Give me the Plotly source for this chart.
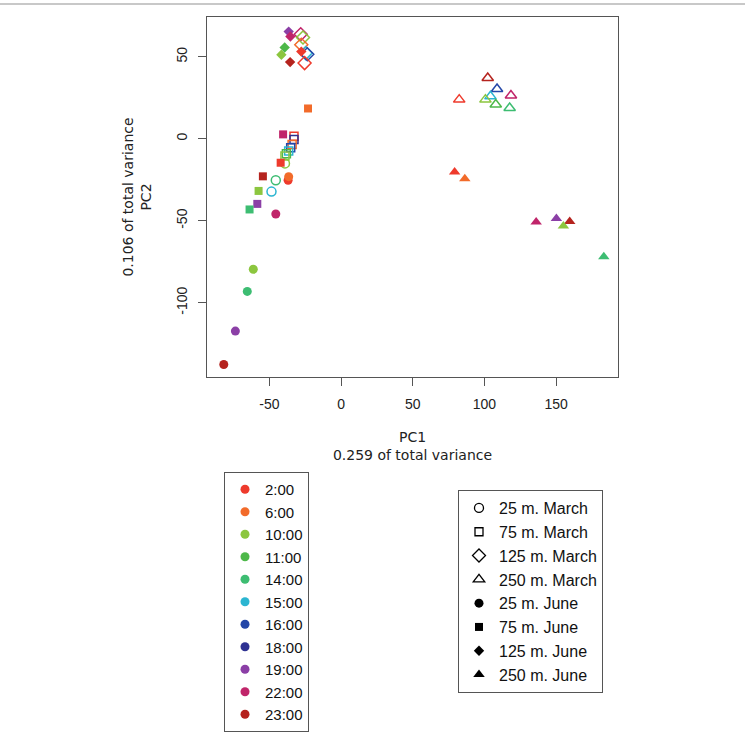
import plotly.graph_objects as go

# ---- data ----
hours = ["2:00", "6:00", "10:00", "11:00", "14:00", "15:00", "16:00", "18:00", "19:00", "22:00", "23:00"]
hour_colors = ["#EE3A2C", "#F26B2A", "#8CC63F", "#4DB849", "#3DBD72", "#2BB5D1",
               "#2447A8", "#2E3192", "#8B3FA6", "#C0256A", "#B5231E"]

groups = ["25 m. March", "75 m. March", "125 m. March", "250 m. March",
          "25 m. June", "75 m. June", "125 m. June", "250 m. June"]
group_symbols = ["circle-open", "square-open", "diamond-open", "triangle-up-open",
                 "circle", "square", "diamond", "triangle-up"]
group_sizes = [9, 8, 10, 10, 9, 8, 8, 10]

pc1 = [
    # 25 m. March
    -39.2, -45.6, -48.6,
    # 75 m. March
    -32.9, -32.9, -34.2, -35.2, -36.6, -38.2, -39.2,
    # 125 m. March
    -28.2, -26.6, -27.8, -24.7, -23.6, -25.5,
    # 250 m. March
    82.4, 102.3, 108.8, 104.2, 100.7, 118.5, 107.9, 117.6,
    # 25 m. June
    -37.0, -36.6, -45.6, -61.3, -65.5, -73.8, -81.9,
    # 75 m. June
    -40.5, -42.2, -54.6, -57.6, -58.5, -63.9, -23.1,
    # 125 m. June
    -36.6, -35.4, -39.4, -41.7, -35.6, -27.8,
    # 250 m. June
    79.2, 86.3, 136.1, 150.2, 159.5, 155.1, 183.3,
]
pc2 = [
    -15.0, -25.3, -32.2,
    1.6, -0.4, -3.4, -5.5, -7.5, -9.1, -10.5,
    63.8, 61.8, 57.4, 52.3, 51.6, 46.2,
    23.9, 37.1, 30.4, 25.9, 23.9, 26.4, 20.9, 18.8,
    -25.3, -23.1, -45.9, -79.6, -93.1, -117.3, -137.7,
    2.7, -14.6, -22.9, -31.8, -39.7, -43.1, 18.5,
    65.4, 62.4, 55.7, 51.3, 46.8, 53.2,
    -20.2, -24.3, -50.8, -48.6, -50.4, -53.2, -71.9,
]
hour = [
    "10:00", "14:00", "15:00",
    "2:00", "18:00", "6:00", "16:00", "15:00", "11:00", "10:00",
    "22:00", "10:00", "6:00", "15:00", "16:00", "2:00",
    "2:00", "23:00", "16:00", "15:00", "10:00", "22:00", "11:00", "14:00",
    "2:00", "6:00", "22:00", "10:00", "14:00", "19:00", "23:00",
    "22:00", "2:00", "23:00", "10:00", "19:00", "14:00", "6:00",
    "19:00", "22:00", "11:00", "10:00", "23:00", "2:00",
    "2:00", "6:00", "22:00", "19:00", "23:00", "10:00", "14:00",
]
group = (["25 m. March"] * 3 + ["75 m. March"] * 7 + ["125 m. March"] * 6 +
         ["250 m. March"] * 8 + ["25 m. June"] * 7 + ["75 m. June"] * 7 +
         ["125 m. June"] * 6 + ["250 m. June"] * 7)

x_tickvals = [-50, 0, 50, 100, 150]
x_ticktext = ["-50", "0", "50", "100", "150"]
y_tickvals = [-100, -50, 0, 50]
y_ticktext = ["-100", "-50", "0", "50"]

color_of = dict(zip(hours, hour_colors))

fig = go.Figure()

# data points, one trace per depth/month group
for g, sym, sz in zip(groups, group_symbols, group_sizes):
    idx = [i for i, gg in enumerate(group) if gg == g]
    cols = [color_of[hour[i]] for i in idx]
    fig.add_trace(go.Scatter(
        x=[pc1[i] for i in idx], y=[pc2[i] for i in idx],
        mode="markers", showlegend=False, hoverinfo="x+y+text",
        text=[hour[i] + " " + g for i in idx],
        marker=dict(symbol=sym, size=sz, color=cols,
                    line=dict(width=1.5, color=cols) if "open" in sym else dict(width=0)),
    ))

# legend 1: hours
for h, c in zip(hours, hour_colors):
    fig.add_trace(go.Scatter(
        x=[None], y=[None], mode="markers", name=h, legend="legend",
        marker=dict(symbol="circle", size=9, color=c),
    ))

# legend 2: depth / month
for g, sym, sz in zip(groups, group_symbols, group_sizes):
    fig.add_trace(go.Scatter(
        x=[None], y=[None], mode="markers", name=g, legend="legend2",
        marker=dict(symbol=sym, size=sz, color="black",
                    line=dict(width=1.3, color="black") if "open" in sym else dict(width=0)),
    ))

axis_common = dict(
    showline=True, mirror=True, linecolor="#555555", linewidth=1.2,
    ticks="outside", ticklen=8, tickcolor="#555555", tickwidth=1.2,
    showgrid=False, zeroline=False,
    tickfont=dict(family="Liberation Sans, Arial", size=14, color="#222222"),
)

fig.update_xaxes(
    range=[-93.6, 193.2], tickvals=x_tickvals, ticktext=x_ticktext,
    ticklabelstandoff=6,
    title=dict(text="PC1<br>0.259 of total variance", standoff=21,
               font=dict(family="DejaVu Sans", size=14, color="#222222")),
    **axis_common,
)
fig.update_yaxes(
    range=[-145.3, 74.3], tickvals=y_tickvals, ticktext=y_ticktext,
    tickangle=-90, ticklabelstandoff=5,
    title=dict(text="0.106 of total variance<br>PC2", standoff=19,
               font=dict(family="DejaVu Sans", size=14, color="#222222")),
    **axis_common,
)

legend_common = dict(
    bgcolor="white", bordercolor="#555555", borderwidth=1,
    xanchor="left", yanchor="top", itemclick=False, itemdoubleclick=False,
)

fig.update_layout(
    width=745, height=744,
    margin=dict(l=207, r=127, t=17, b=367),
    paper_bgcolor="white", plot_bgcolor="white",
    legend=dict(x=0.0414, y=-0.264,
                font=dict(family="Liberation Sans, Arial", size=15, color="#111111"),
                **legend_common),
    legend2=dict(x=0.6107, y=-0.314,
                 font=dict(family="Liberation Sans, Arial", size=16, color="#111111"),
                 **legend_common),
    shapes=[dict(type="line", xref="paper", yref="paper",
                 x0=-207 / 411, x1=1 + 127 / 411, y0=(377 - 4) / 360, y1=(377 - 4) / 360,
                 line=dict(color="#c8c8c8", width=2))],
)

fig.write_html("out.html")
